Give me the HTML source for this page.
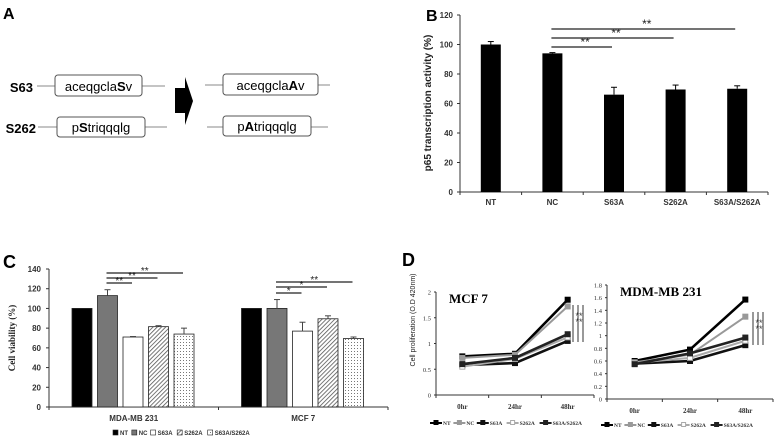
<!DOCTYPE html>
<html><head><meta charset="utf-8"><style>
body{margin:0;background:#fff;}
svg{display:block;font-family:"Liberation Sans",sans-serif;}
.serif{font-family:"Liberation Serif",serif;}
</style></head><body>
<svg id="fig" width="778" height="440" viewBox="0 0 778 440">
<defs>
<pattern id="hatch" width="3" height="3" patternUnits="userSpaceOnUse" patternTransform="rotate(45)"><rect width="3" height="3" fill="#fff"/><line x1="0" y1="0" x2="0" y2="3" stroke="#555" stroke-width="1.6"/></pattern>
<pattern id="dots" width="3" height="3" patternUnits="userSpaceOnUse"><rect width="3" height="3" fill="#fff"/><rect width="1" height="1" fill="#777"/></pattern>
</defs>
<g>
<text x="3" y="19" font-size="16" font-weight="bold">A</text>
<text x="33" y="92" font-size="13" font-weight="bold" text-anchor="end">S63</text>
<line x1="37" y1="86" x2="55" y2="86" stroke="#888"/><line x1="142" y1="86" x2="165" y2="86" stroke="#888"/>
<rect x="55" y="75" width="87" height="21" rx="3" fill="#fff" stroke="#555"/>
<text x="98.5" y="91" font-size="13" text-anchor="middle">aceqgcla<tspan font-weight="bold">S</tspan>v</text>
<text x="36" y="133" font-size="13" font-weight="bold" text-anchor="end">S262</text>
<line x1="38" y1="127" x2="57" y2="127" stroke="#888"/><line x1="145" y1="127" x2="167" y2="127" stroke="#888"/>
<rect x="57" y="117" width="88" height="20" rx="3" fill="#fff" stroke="#555"/>
<text x="101" y="132" font-size="13" text-anchor="middle">p<tspan font-weight="bold">S</tspan>triqqqlg</text>
<polygon points="175,88 185,88 185,77 193,101 185,125 185,113 175,113" fill="#000"/>
<line x1="205" y1="85" x2="223" y2="85" stroke="#888"/><line x1="318" y1="85" x2="330" y2="85" stroke="#888"/>
<rect x="223" y="74" width="95" height="21" rx="3" fill="#fff" stroke="#555"/>
<text x="270.5" y="90" font-size="13" text-anchor="middle">aceqgcla<tspan font-weight="bold">A</tspan>v</text>
<line x1="207" y1="127" x2="223" y2="127" stroke="#888"/><line x1="311" y1="127" x2="328" y2="127" stroke="#888"/>
<rect x="223" y="116" width="88" height="20" rx="3" fill="#fff" stroke="#555"/>
<text x="267" y="131" font-size="13" text-anchor="middle">p<tspan font-weight="bold">A</tspan>triqqqlg</text>
</g>
<text x="426" y="21" font-size="16" font-weight="bold">B</text>
<text x="3" y="268" font-size="18" font-weight="bold">C</text>
<text x="402" y="266" font-size="18" font-weight="bold">D</text>
<g id="gB"></g>
<g id="gC"></g>
<g id="gD"></g>
</svg>
<script>
// Panel B data
const bCats=["NT","NC","S63A","S262A","S63A/S262A"];
const bVals=[100,94,66,69.5,70];
const bErr=[2,0.5,5,3,2];
const bTicks=[0,20,40,60,80,100,120];
// Panel C data
const cGroups=["MDA-MB 231","MCF 7"];
const cSeries=["NT","NC","S63A","S262A","S63A/S262A"];
const cMDA=[100,113,71,81.5,74];
const cMDAerr=[0,6,0.5,1,6];
const cMCF=[100,100,77,89.5,69.5];
const cMCFerr=[0,9,9,3,1.5];
const cTicks=[0,20,40,60,80,100,120,140];
// Panel D data
const dTimes=["0hr","24hr","48hr"];
const dSeries=["NT","NC","S63A","S262A","S63A/S262A"];
const dMCF_NT=[0.75,0.8,1.85];
const dMCF_NC=[0.72,0.78,1.72];
const dMCF_S63A=[0.58,0.62,1.05];
const dMCF_S262A=[0.55,0.7,1.12];
const dMCF_DBL=[0.6,0.72,1.18];
const dMDA_NT=[0.6,0.78,1.57];
const dMDA_NC=[0.58,0.7,1.3];
const dMDA_S63A=[0.56,0.6,0.85];
const dMDA_S262A=[0.57,0.65,0.92];
const dMDA_DBL=[0.55,0.72,0.97];
const dTicksMCF=[0,0.5,1,1.5,2];
const dTicksMDA=[0,0.2,0.4,0.6,0.8,1,1.2,1.4,1.6,1.8];

const NS="http://www.w3.org/2000/svg";
function mk(p,t,a,txt){const e=document.createElementNS(NS,t);for(const k in a)e.setAttribute(k,a[k]);if(txt!==undefined)e.textContent=txt;p.appendChild(e);return e;}

// ---- B ----
(function(){
const g=document.getElementById('gB');
const x0=460,x1=768,y0=192,yT=15;
const y=v=>y0-(v/120)*(y0-yT);
const step=(x1-x0)/bCats.length;
const xc=i=>x0+step*(i+0.5);
mk(g,'line',{x1:x0,y1:yT,x2:x0,y2:y0,stroke:'#333'});
mk(g,'line',{x1:x0,y1:y0,x2:x1,y2:y0,stroke:'#333'});
bTicks.forEach(t=>{mk(g,'line',{x1:x0-3,y1:y(t),x2:x0,y2:y(t),stroke:'#333'});
const e=mk(g,'text',{x:x0-7,y:y(t)+3,'font-size':8,'font-weight':'bold','text-anchor':'end',fill:'#333'},t);
});
for(let i=0;i<=bCats.length;i++)mk(g,'line',{x1:x0+step*i,y1:y0,x2:x0+step*i,y2:y0+3,stroke:'#333'});
bCats.forEach((c,i)=>{
const b=mk(g,'rect',{x:xc(i)-10,y:y(bVals[i]),width:20,height:y0-y(bVals[i]),fill:'#000'});

mk(g,'line',{x1:xc(i),y1:y(bVals[i]),x2:xc(i),y2:y(bVals[i]+bErr[i]),stroke:'#000'});
mk(g,'line',{x1:xc(i)-3,y1:y(bVals[i]+bErr[i]),x2:xc(i)+3,y2:y(bVals[i]+bErr[i]),stroke:'#000'});
const t=mk(g,'text',{x:xc(i),y:205,'font-size':8,'font-weight':'bold','text-anchor':'middle',fill:'#333'},c);

});
const yt=mk(g,'text',{x:0,y:0,'font-size':10,'font-weight':'bold','text-anchor':'middle',transform:'translate(431,103) rotate(-90)',fill:'#222'},'p65 transcription activity (%)');

[[2,47],[3,38],[4,29]].forEach(([j,ly])=>{
mk(g,'line',{x1:xc(1)-1,y1:ly,x2:xc(j)-2,y2:ly,stroke:'#222','stroke-width':1.3});
mk(g,'text',{x:(xc(1)+xc(j))/2+2,y:ly-1,'font-size':12,'text-anchor':'middle',fill:'#222'},'**');
});
})();

// ---- C ----
(function(){
const g=document.getElementById('gC');
const x0=49,x1=388,y0=407,yT=269;
const y=v=>y0-(v/140)*(y0-yT);
const fills=['#000','#777','#fff','url(#hatch)','url(#dots)'];
mk(g,'line',{x1:x0,y1:yT,x2:x0,y2:y0,stroke:'#333'});
mk(g,'line',{x1:x0,y1:y0,x2:x1,y2:y0,stroke:'#333'});
cTicks.forEach(t=>{mk(g,'line',{x1:x0-3,y1:y(t),x2:x0,y2:y(t),stroke:'#333'});
const e=mk(g,'text',{x:x0-8,y:y(t)+3,'font-size':8,'font-weight':'bold','text-anchor':'end',fill:'#333'},t);
});
const gw=(x1-x0)/2;
[0,1,2].forEach(i=>mk(g,'line',{x1:x0+gw*i,y1:y0,x2:x0+gw*i,y2:y0+3,stroke:'#333'}));
const bx=(gi,si)=>x0+gw*gi+33+si*25.5;
[cMDA,cMCF].forEach((vals,gi)=>{
const errs=gi?cMCFerr:cMDAerr;
vals.forEach((v,si)=>{
const cx=bx(gi,si);
const b=mk(g,'rect',{x:cx-10,y:y(v),width:20,height:y0-y(v),fill:fills[si],stroke:'#222','stroke-width':0.8});

if(errs[si]>0){mk(g,'line',{x1:cx,y1:y(v),x2:cx,y2:y(v+errs[si]),stroke:'#444'});
mk(g,'line',{x1:cx-3,y1:y(v+errs[si]),x2:cx+3,y2:y(v+errs[si]),stroke:'#444'});}
});
const t=mk(g,'text',{x:x0+gw*(gi+0.5),y:421,'font-size':8,'font-weight':'bold','text-anchor':'middle',fill:'#333'},cGroups[gi]);

});
const yt=mk(g,'text',{x:0,y:0,'font-size':9,'font-weight':'bold','text-anchor':'middle',transform:'translate(15,338) rotate(-90)',class:'serif',fill:'#222'},'Cell viability (%)');

const sig=[[0,2,283,'**'],[0,3,278,'**'],[0,4,273,'**'],[1,2,293,'*'],[1,3,287,'*'],[1,4,282,'**']];
sig.forEach(([gi,j,ly,s])=>{const a=bx(gi,1)-1,b=bx(gi,j)-1;
mk(g,'line',{x1:a,y1:ly,x2:b,y2:ly,stroke:'#222','stroke-width':1.2});
mk(g,'text',{x:(a+b)/2,y:ly+1,'font-size':10,'text-anchor':'middle',fill:'#222'},s);});
let lx=113;
cSeries.forEach((s,si)=>{
const le=mk(g,'g',{});
mk(le,'rect',{x:lx,y:430,width:5,height:5,fill:fills[si],stroke:'#222','stroke-width':0.6});
mk(le,'text',{x:lx+7,y:435,'font-size':6,'font-weight':'bold',fill:'#333'},s);
lx+=s.length*3.9+11;});
})();

// ---- D ----
function lineChart(g,cfg){
const {x0,x1,y0,yT,ymax,ticks,title,series,sig,legY,name}=cfg;
const y=v=>y0-(v/ymax)*(y0-yT);
const step=(x1-x0)/3;const xc=i=>x0+step*(i+0.5);
mk(g,'line',{x1:x0,y1:yT,x2:x0,y2:y0,stroke:'#333'});
mk(g,'line',{x1:x0,y1:y0,x2:x1,y2:y0,stroke:'#333'});
ticks.forEach(t=>{mk(g,'line',{x1:x0-2,y1:y(t),x2:x0,y2:y(t),stroke:'#333'});
const e=mk(g,'text',{x:x0-5,y:y(t)+2.5,'font-size':6.5,'text-anchor':'end',class:'serif',fill:'#333'},t);
});
for(let i=0;i<=3;i++)mk(g,'line',{x1:x0+step*i,y1:y0,x2:x0+step*i,y2:y0+3,stroke:'#333'});
dTimes.forEach((t,i)=>{const e=mk(g,'text',{x:xc(i),y:y0+14,'font-size':7,'font-weight':'bold','text-anchor':'middle',class:'serif',fill:'#333'},t);
});
const tt=mk(g,'text',{x:x0+13,y:yT+11,'font-size':13,'font-weight':'bold',class:'serif'},title);

const cols=['#000','#999','#111','#aaa','#222'];
series.forEach((vals,si)=>{
const pts=vals.map((v,i)=>xc(i)+','+y(v)).join(' ');
const pl=mk(g,'polyline',{points:pts,fill:'none',stroke:cols[si],'stroke-width':si==1||si==3?2:2.6});

vals.forEach((v,i)=>{mk(g,'rect',{x:xc(i)-2.5,y:y(v)-2.5,width:5,height:5,fill:si==3?'#fff':cols[si],stroke:cols[si]});});
});
sig.lines.forEach(x=>mk(g,'line',{x1:x,y1:sig.top,x2:x,y2:sig.bot,stroke:'#333'}));
mk(g,'text',{x:sig.lines[1]+1,y:sig.top+14,'font-size':9,'text-anchor':'middle',fill:'#444'},'**');
mk(g,'text',{x:sig.lines[1]+1,y:sig.top+20,'font-size':9,'text-anchor':'middle',fill:'#444'},'**');
const yl=legY;let lx=x0-6;
dSeries.forEach((s,si)=>{
const le=mk(g,'g',{});
mk(le,'line',{x1:lx,y1:yl,x2:lx+12,y2:yl,stroke:cols[si],'stroke-width':2});
mk(le,'rect',{x:lx+4,y:yl-2.5,width:4,height:4,fill:si==3?'#fff':cols[si],stroke:cols[si]});
mk(le,'text',{x:lx+13,y:yl+2,'font-size':5.5,'font-weight':'bold',class:'serif',fill:'#333'},s);
lx+=13+s.length*3.2+4;});
}
(function(){
const g=document.getElementById('gD');
const a=mk(g,'g',{});
lineChart(a,{x0:436,x1:594,y0:395,yT:292,ymax:2,ticks:dTicksMCF,title:'MCF 7',name:'d-mcf7',
series:[dMCF_NT,dMCF_NC,dMCF_S63A,dMCF_S262A,dMCF_DBL],sig:{lines:[573,578,583],top:305,bot:342},legY:423});
const b=mk(g,'g',{});
lineChart(b,{x0:607,x1:773,y0:399,yT:285,ymax:1.8,ticks:dTicksMDA,title:'MDM-MB 231',name:'d-mdamb231',
series:[dMDA_NT,dMDA_NC,dMDA_S63A,dMDA_S262A,dMDA_DBL],sig:{lines:[753,758,763],top:312,bot:345},legY:425});
const yt=mk(g,'text',{x:0,y:0,'font-size':7,'text-anchor':'middle',transform:'translate(415,320) rotate(-90)',fill:'#222'},'Cell proliferation (O.D 420nm)');

})();
</script>
</body></html>
